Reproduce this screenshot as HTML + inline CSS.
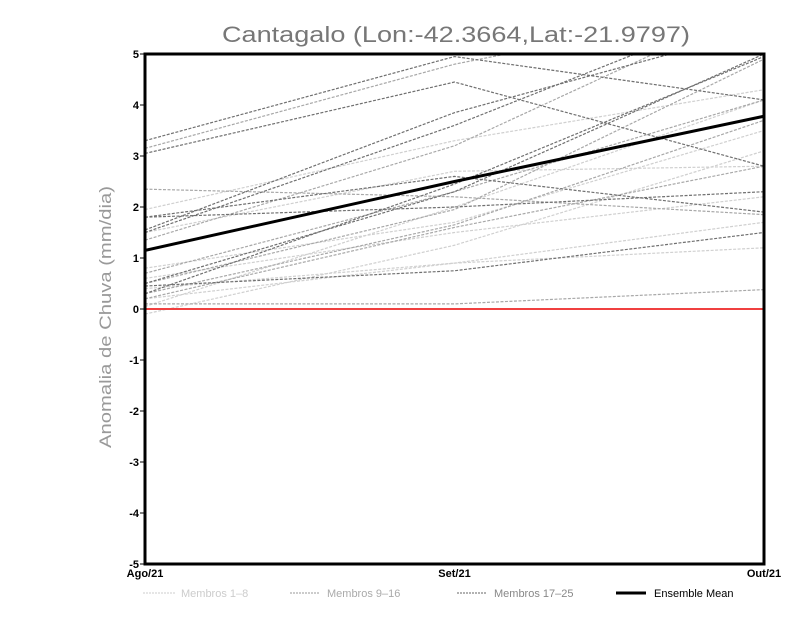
<!DOCTYPE html>
<html><head><meta charset="utf-8"><style>
body{margin:0;background:#fff;}
svg text{font-family:"Liberation Sans",sans-serif;}
</style></head><body>
<svg width="800" height="618" viewBox="0 0 800 618" xmlns="http://www.w3.org/2000/svg">
<defs><clipPath id="pc"><rect x="145" y="54" width="619" height="510"/></clipPath></defs>
<text x="222" y="42" textLength="468" lengthAdjust="spacingAndGlyphs" font-size="22" fill="#777">Cantagalo (Lon:-42.3664,Lat:-21.9797)</text>
<text transform="translate(111,448) rotate(-90)" textLength="262" lengthAdjust="spacingAndGlyphs" font-size="17" fill="#999">Anomalia de Chuva (mm/dia)</text>
<g id="series" clip-path="url(#pc)"></g>
<line x1="145" y1="309" x2="764" y2="309" stroke="#f04040" stroke-width="2"/>
<g id="meanG" clip-path="url(#pc)"></g>
<rect x="145" y="54" width="619" height="510" fill="none" stroke="#000" stroke-width="3"/>
<g id="axes"></g>
<g>
<g><line x1="143" y1="593" x2="175" y2="593" stroke="#ccc" stroke-dasharray="2,1"/><text x="181" y="597" font-size="11" fill="#ccc">Membros 1–8</text></g>
<g><line x1="290" y1="593" x2="320" y2="593" stroke="#999" stroke-dasharray="2,1"/><text x="327" y="597" font-size="11" fill="#aaa">Membros 9–16</text></g>
<g><line x1="457" y1="593" x2="487" y2="593" stroke="#666" stroke-dasharray="2,1"/><text x="494" y="597" font-size="11" fill="#888">Membros 17–25</text></g>
<g><line x1="616" y1="593" x2="646" y2="593" stroke="#000" stroke-width="3"/><text x="654" y="597" font-size="11" fill="#000">Ensemble Mean</text></g>
</g>
</svg>
<script>
const categories=["Ago/21","Set/21","Out/21"];
const yTicks=[-5,-4,-3,-2,-1,0,1,2,3,4,5];
const membros1to8=[[1.95,3.3,4.3],[-0.1,1.25,3.1],[0.4,0.9,1.2],[1.5,2.7,2.8],[0.6,1.5,2.2],[0.2,0.9,1.7],[0.05,2.0,4.1],[0.8,1.7,3.5]];
const membros9to16=[[3.15,4.8,6.0],[2.35,2.2,1.85],[0.1,0.1,0.38],[0.5,1.95,4.9],[1.35,3.2,6.0],[0.7,2.3,4.1],[0.3,1.65,3.7],[0.2,1.6,2.8]];
const membros17to25=[[3.3,4.95,4.1],[3.05,4.45,2.8],[1.55,3.85,5.5],[1.8,2.6,1.9],[0.5,2.3,5.0],[0.45,0.75,1.5],[1.5,3.6,6.0],[0.3,2.45,4.95],[1.8,2.0,2.3]];
const ensembleMean=[1.15,2.5,3.78];
const NS="http://www.w3.org/2000/svg";
const X0=145,X1=764,Y0=54,Y1=564;
function xs(i){return X0+(X1-X0)*i/(categories.length-1);}
function ys(v){return Y1-(v+5)/10*(Y1-Y0);}
function pts(a){return a.map((v,i)=>xs(i)+","+ys(v)).join(" ");}
const g=document.getElementById("series");
function draw(group,color,name){group.forEach((s,k)=>{const p=document.createElementNS(NS,"polyline");
p.setAttribute("points",pts(s));p.setAttribute("fill","none");p.setAttribute("stroke",color);p.setAttribute("stroke-width","1.2");p.setAttribute("stroke-dasharray","3,1.5");


g.appendChild(p);});}
draw(membros1to8,"#d0d0d0","membro-light");
draw(membros9to16,"#a8a8a8","membro-medium");
draw(membros17to25,"#707070","membro-dark");
const m=document.createElementNS(NS,"polyline");
m.setAttribute("points",pts(ensembleMean));m.setAttribute("fill","none");m.setAttribute("stroke","#000");m.setAttribute("stroke-width","3");


document.getElementById("meanG").appendChild(m);
const ax=document.getElementById("axes");
yTicks.forEach(v=>{const t=document.createElementNS(NS,"text");t.setAttribute("x",139);t.setAttribute("y",ys(v)+4);t.setAttribute("text-anchor","end");t.setAttribute("font-size","11");t.setAttribute("font-weight","bold");t.textContent=v;


ax.appendChild(t);
const l=document.createElementNS(NS,"line");l.setAttribute("x1",140);l.setAttribute("x2",145);l.setAttribute("y1",ys(v));l.setAttribute("y2",ys(v));l.setAttribute("stroke","#000");


ax.appendChild(l);});
categories.forEach((c,i)=>{const t=document.createElementNS(NS,"text");t.setAttribute("x",xs(i));t.setAttribute("y",577);t.setAttribute("text-anchor","middle");t.setAttribute("font-size","11");t.setAttribute("font-weight","bold");t.textContent=c;


ax.appendChild(t);});
</script>
</body></html>
